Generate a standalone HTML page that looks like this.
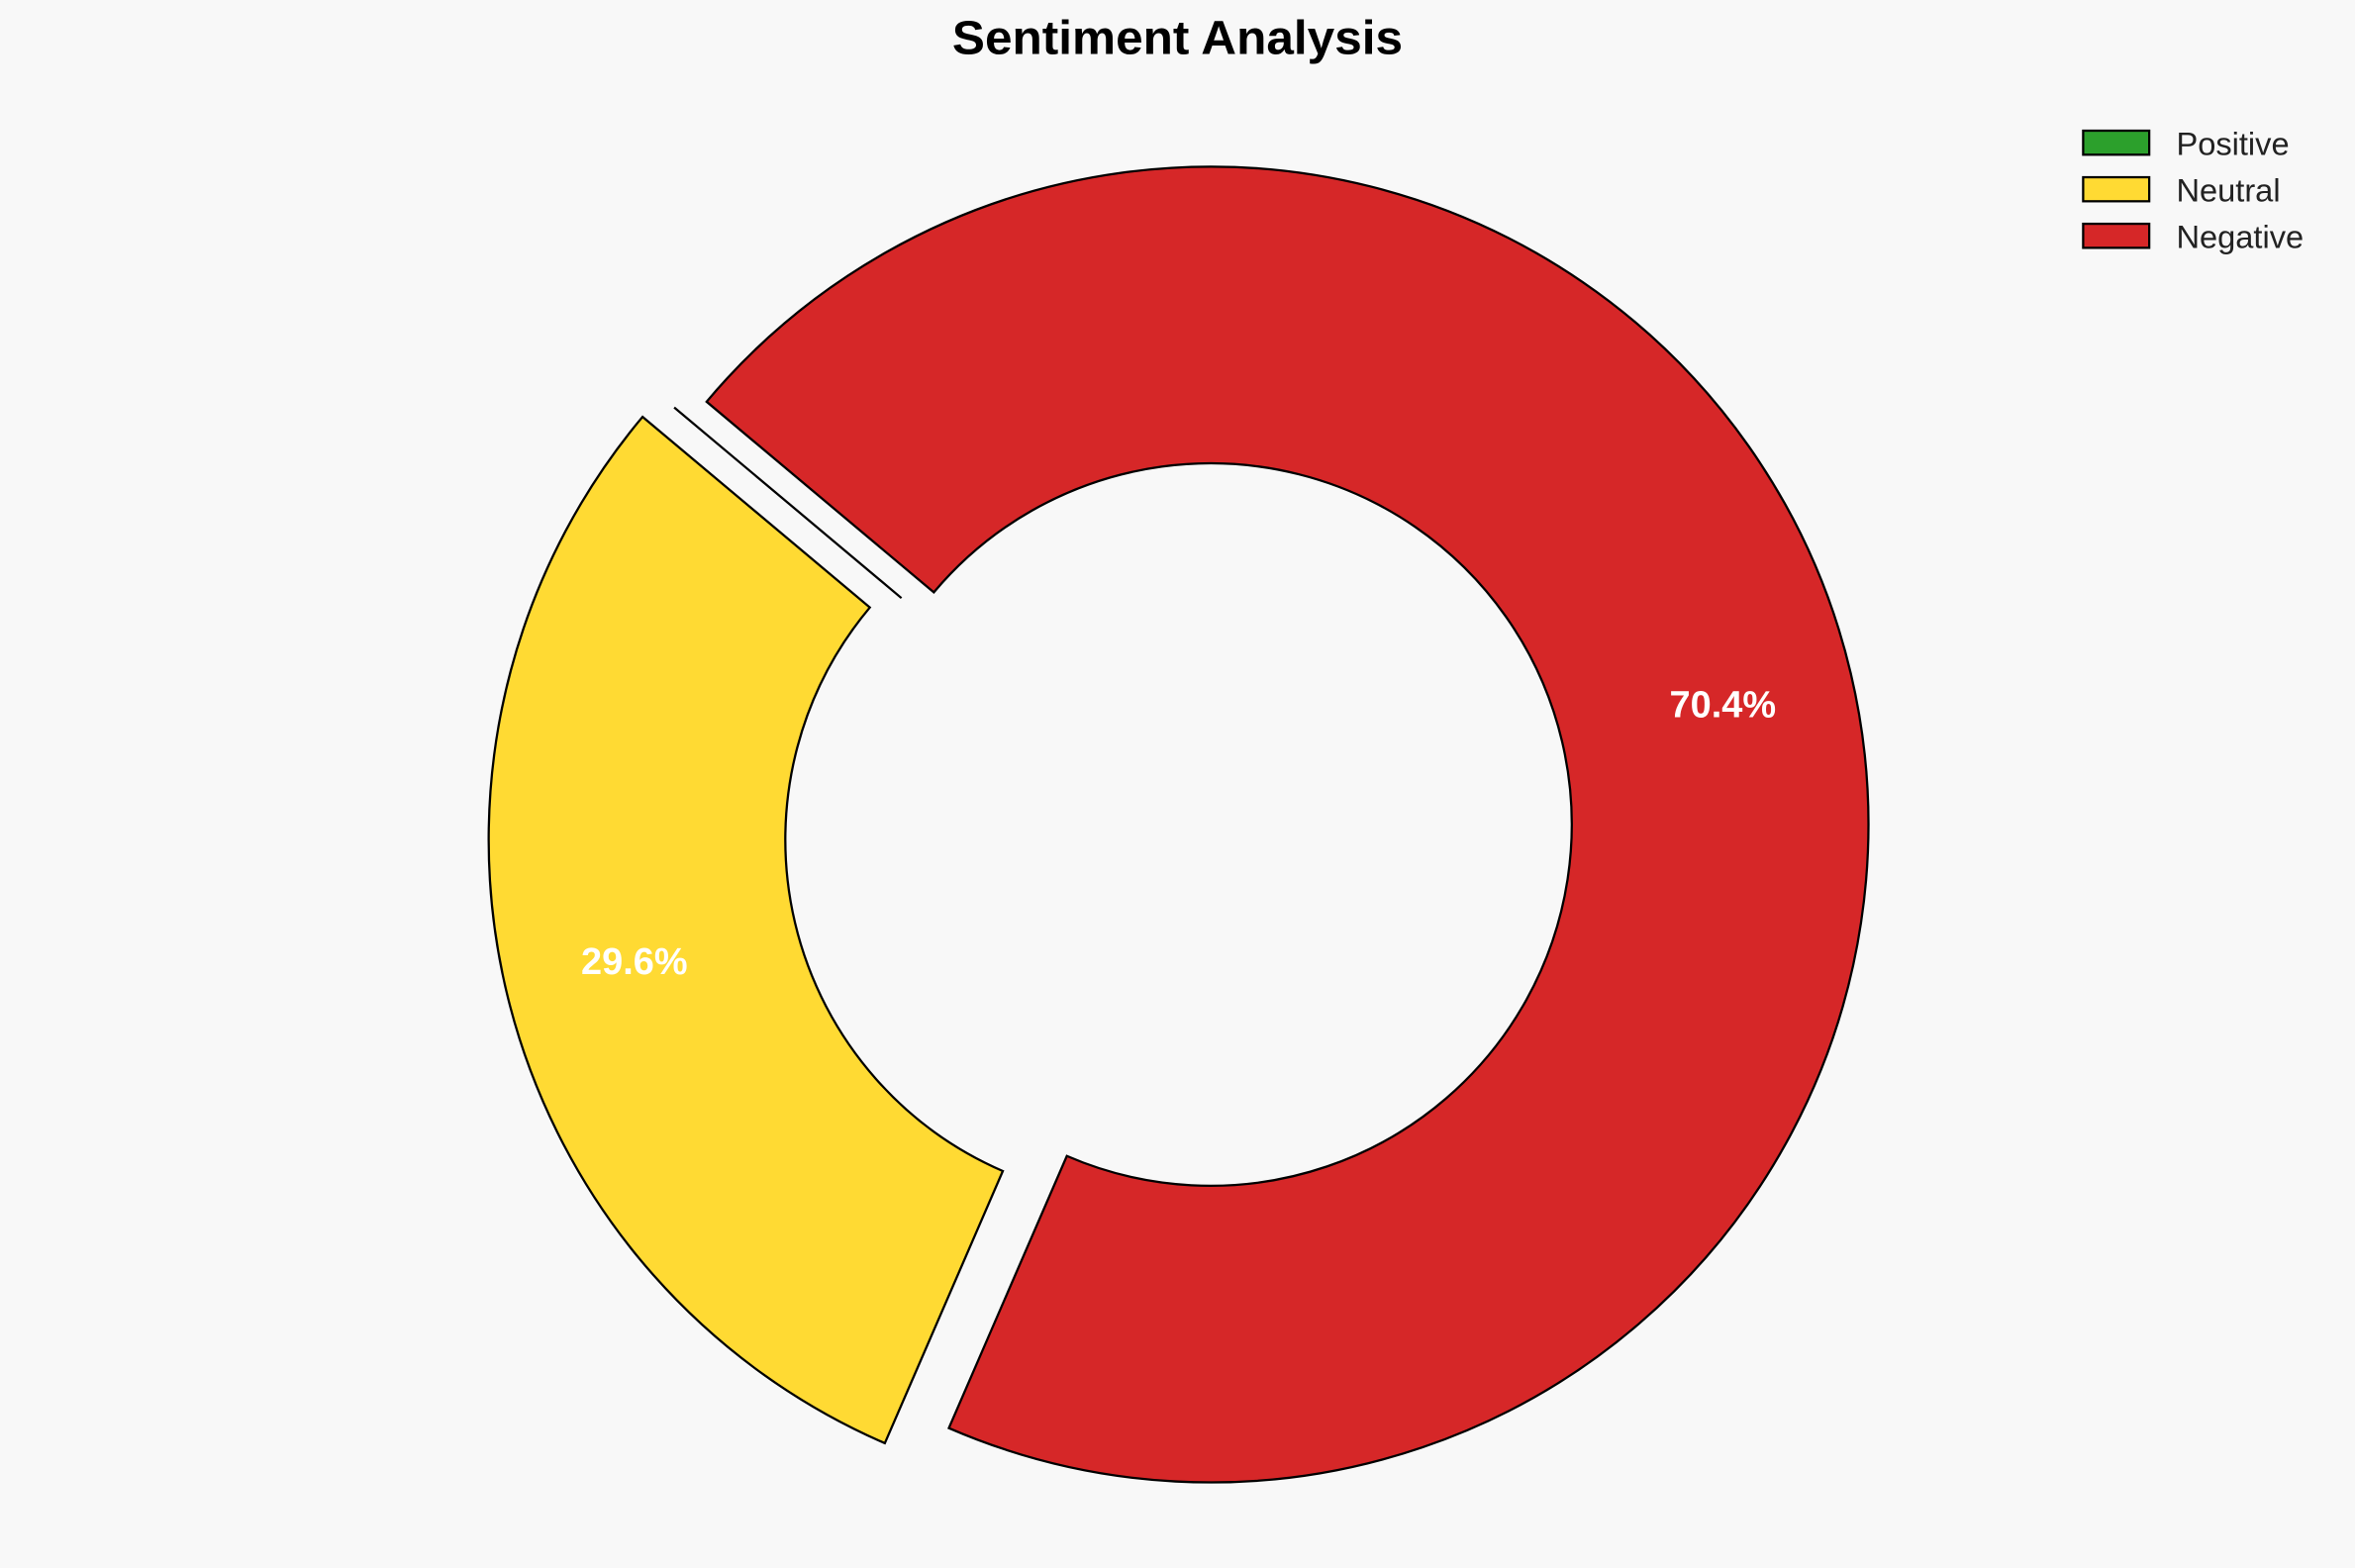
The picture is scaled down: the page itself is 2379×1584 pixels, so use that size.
<!DOCTYPE html>
<html><head><meta charset="utf-8"><title>Sentiment Analysis</title>
<style>
html,body{margin:0;padding:0;background:#f8f8f8;}
svg{display:block;}
</style></head>
<body>
<svg id="chart" width="2379" height="1584" viewBox="0 0 1568 1044" xmlns="http://www.w3.org/2000/svg">
<rect x="0" y="0" width="1568" height="1044" fill="#f8f8f8"/>
<text x="784" y="36" text-anchor="middle" font-family="Liberation Sans, sans-serif" font-weight="bold" font-size="32" textLength="300" lengthAdjust="spacingAndGlyphs" fill="#000">Sentiment Analysis</text>
<g id="slices"></g>
<g id="labels"></g>
<g id="legend"></g>
</svg>
<script>
const categories = ["Positive", "Neutral", "Negative"];
const values = [0, 29.6, 70.4];
const explodes = [0.05, 0.1, 0];
const colors = ["#2ca02c", "#ffda33", "#d62728"];

const NS = "http://www.w3.org/2000/svg";
const cx = 806, cy = 549, R = 438, r = 240.5, startAngle = 140, pctDist = 0.8;
const total = values.reduce((a, b) => a + b, 0);
const slices = document.getElementById('slices');
const labels = document.getElementById('labels');
const legend = document.getElementById('legend');
function pt(ox, oy, rad, deg) {
  const a = deg * Math.PI / 180;
  return [ox + rad * Math.cos(a), oy - rad * Math.sin(a)];
}
let ang = startAngle;
values.forEach((v, i) => {
  const sweep = v / total * 360;
  const a1 = ang, a2 = ang + sweep, mid = (a1 + a2) / 2;
  if (sweep === 0) {
    const [ox, oy] = pt(cx, cy, explodes[i] * R, mid + 50);
    const p = pt(ox, oy, R, a1), q = pt(ox, oy, r, a1);
    const line = document.createElementNS(NS, 'line');
    line.setAttribute('x1', p[0]); line.setAttribute('y1', p[1]);
    line.setAttribute('x2', q[0]); line.setAttribute('y2', q[1]);
    line.setAttribute('stroke', '#000');
    line.setAttribute('stroke-width', '1.5');
    
    
    slices.appendChild(line);
    return;
  }
  const [ox, oy] = pt(cx, cy, explodes[i] * R, mid);
  const p1 = pt(ox, oy, R, a1), p2 = pt(ox, oy, R, a2);
  const q2 = pt(ox, oy, r, a2), q1 = pt(ox, oy, r, a1);
  const large = sweep > 180 ? 1 : 0;
  const d = `M${p1[0]},${p1[1]} A${R},${R} 0 ${large} 0 ${p2[0]},${p2[1]} L${q2[0]},${q2[1]} A${r},${r} 0 ${large} 1 ${q1[0]},${q1[1]} Z`;
  const path = document.createElementNS(NS, 'path');
  path.setAttribute('d', d);
  path.setAttribute('fill', colors[i]);
  path.setAttribute('stroke', '#000');
  path.setAttribute('stroke-width', '1.5');
  
  
  slices.appendChild(path);
  const lp = pt(ox, oy, pctDist * R, mid);
  const t = document.createElementNS(NS, 'text');
  t.setAttribute('x', lp[0]);
  t.setAttribute('y', lp[1] + 9);
  t.setAttribute('text-anchor', 'middle');
  t.setAttribute('font-family', 'Liberation Sans, sans-serif');
  t.setAttribute('font-weight', 'bold');
  t.setAttribute('font-size', '25');
  t.setAttribute('fill', '#fff');
  
  
  t.textContent = (v / total * 100).toFixed(1) + '%';
  labels.appendChild(t);
  ang = a2;
});
categories.forEach((c, i) => {
  const y = 87 + i * 31;
  const box = document.createElementNS(NS, 'rect');
  box.setAttribute('x', 1387); box.setAttribute('y', y);
  box.setAttribute('width', 44); box.setAttribute('height', 16);
  box.setAttribute('fill', colors[i]); box.setAttribute('stroke', '#000'); box.setAttribute('stroke-width', '1.5');
  
  
  legend.appendChild(box);
  const t = document.createElementNS(NS, 'text');
  t.setAttribute('x', 1449); t.setAttribute('y', y + 16);
  t.setAttribute('font-family', 'Liberation Sans, sans-serif');
  t.setAttribute('font-size', '21.5'); t.setAttribute('fill', '#222');
  
  
  t.textContent = c;
  legend.appendChild(t);
});
</script>
</body></html>
